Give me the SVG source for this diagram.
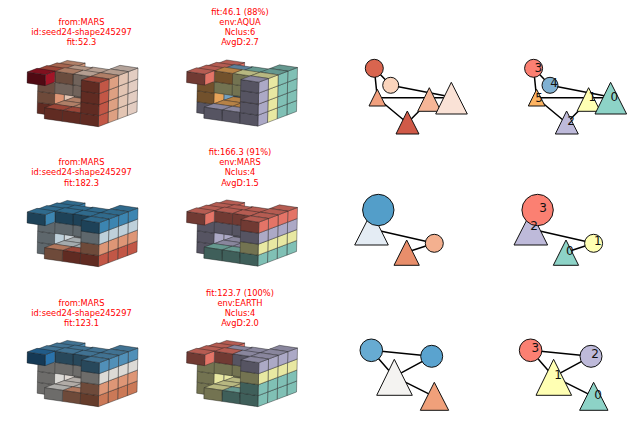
<svg xmlns="http://www.w3.org/2000/svg" width="640" height="424" viewBox="0 0 640 424">
<style>
text{font-family:"DejaVu Sans",sans-serif}
.t{fill:#ff0000;font-size:8.3px;text-anchor:middle}
.d{fill:#111;font-size:12px;text-anchor:middle}
.e{stroke:#000;stroke-width:1.5;fill:none}
.n{stroke:#111;stroke-width:1}
.fb{stroke:#222;stroke-width:.5;stroke-opacity:.85;stroke-linejoin:round}
.sh{stroke:none;fill:#000}
</style>
<defs>
<g id="F"><polygon class="fb" points="0,0 -18,-2.67 -17.75,-13.67 .25,-11"/><polygon class="sh" opacity=".55" points="0,0 -18,-2.67 -17.75,-13.67 .25,-11"/></g>
<g id="R"><polygon class="fb" points="0,0 9.67,-3.67 9.92,-14.67 .25,-11"/><polygon class="sh" opacity=".09" points="0,0 9.67,-3.67 9.92,-14.67 .25,-11"/></g>
<g id="T"><polygon class="fb" points="0,0 -18,-2.67 -8.33,-6.34 9.67,-3.67"/><polygon class="sh" opacity=".28" points="0,0 -18,-2.67 -8.33,-6.34 9.67,-3.67"/></g>
<g id="cube">
<use href="#R" transform="translate(75.2,77.6)" style="fill:var(--a3)"/>
<use href="#T" transform="translate(75.5,66.8)" style="fill:var(--a3)"/>
<use href="#F" transform="translate(55.2,115.9)" style="fill:var(--l)"/>
<use href="#F" transform="translate(55.4,104.9)" style="fill:var(--j)"/>
<use href="#F" transform="translate(55.7,93.9)" style="fill:var(--i)"/>
<use href="#F" transform="translate(92.01,100.1)" style="fill:var(--o)"/>
<use href="#R" transform="translate(64.34,101.1)" style="fill:var(--o)"/>
<use href="#R" transform="translate(54.46,104.38)" style="fill:var(--j)"/>
<use href="#T" transform="translate(100.06,105.92)" style="fill:var(--r)"/>
<use href="#T" transform="translate(82.2,103.51)" style="fill:var(--r)"/>
<use href="#T" transform="translate(90.32,109.46)" style="fill:var(--r)"/>
<use href="#T" transform="translate(72.39,106.92)" style="fill:var(--r)"/>
<use href="#F" transform="translate(90.57,98.46)" style="fill:var(--n)"/>
<use href="#F" transform="translate(72.64,95.92)" style="fill:var(--m)"/>
<use href="#F" transform="translate(90.82,87.46)" style="fill:var(--g)"/>
<use href="#F" transform="translate(72.89,84.92)" style="fill:var(--e)"/>
<use href="#T" transform="translate(65.3,69.2)" style="fill:var(--a2)"/>
<use href="#T" transform="translate(100.81,73.4)" style="fill:var(--h)"/>
<use href="#T" transform="translate(83,71.4)" style="fill:var(--f)"/>
<use href="#T" transform="translate(55.21,71.9)" style="fill:var(--a1)"/>
<use href="#T" transform="translate(91.07,76.46)" style="fill:var(--g)"/>
<use href="#T" transform="translate(73.14,73.92)" style="fill:var(--e)"/>
<use href="#T" transform="translate(80.58,113)" style="fill:var(--q)"/>
<use href="#T" transform="translate(62.58,110.33)" style="fill:var(--p)"/>
<use href="#F" transform="translate(80.33,124)" style="fill:var(--q)"/>
<use href="#F" transform="translate(62.33,121.33)" style="fill:var(--p)"/>
<use href="#R" transform="translate(45.08,85.66)" style="fill:var(--a0)"/>
<use href="#F" transform="translate(45.08,85.66)" style="fill:var(--a0)"/>
<use href="#T" transform="translate(45.33,74.66)" style="fill:var(--a0)"/>
<use href="#R" transform="translate(127.34,115.66)" style="fill:var(--w3,var(--k0))"/>
<use href="#R" transform="translate(127.59,104.66)" style="fill:var(--w3,var(--k1))"/>
<use href="#R" transform="translate(127.84,93.66)" style="fill:var(--w3,var(--k2))"/>
<use href="#R" transform="translate(128.09,82.66)" style="fill:var(--w3,var(--k3))"/>
<use href="#R" transform="translate(117.67,119.33)" style="fill:var(--w2,var(--k0))"/>
<use href="#R" transform="translate(117.92,108.33)" style="fill:var(--w2,var(--k1))"/>
<use href="#R" transform="translate(118.17,97.33)" style="fill:var(--w2,var(--k2))"/>
<use href="#R" transform="translate(118.42,86.33)" style="fill:var(--w2,var(--k3))"/>
<use href="#R" transform="translate(108,123)" style="fill:var(--w1,var(--k0))"/>
<use href="#R" transform="translate(108.25,112)" style="fill:var(--w1,var(--k1))"/>
<use href="#R" transform="translate(108.5,101)" style="fill:var(--w1,var(--k2))"/>
<use href="#R" transform="translate(108.75,90)" style="fill:var(--w1,var(--k3))"/>
<use href="#R" transform="translate(98.33,126.67)" style="fill:var(--w0,var(--k0))"/>
<use href="#R" transform="translate(98.58,115.67)" style="fill:var(--w0,var(--k1))"/>
<use href="#R" transform="translate(98.83,104.67)" style="fill:var(--w0,var(--k2))"/>
<use href="#R" transform="translate(99.08,93.67)" style="fill:var(--w0,var(--k3))"/>
<use href="#F" transform="translate(98.33,126.67)" style="fill:var(--w0,var(--k0))"/>
<use href="#F" transform="translate(98.58,115.67)" style="fill:var(--w0,var(--k1))"/>
<use href="#F" transform="translate(98.83,104.67)" style="fill:var(--w0,var(--k2))"/>
<use href="#F" transform="translate(99.08,93.67)" style="fill:var(--w0,var(--k3))"/>
<use href="#T" transform="translate(128.34,71.66)" style="fill:var(--w3,var(--k3))"/>
<use href="#T" transform="translate(118.67,75.33)" style="fill:var(--w2,var(--k3))"/>
<use href="#T" transform="translate(109,79)" style="fill:var(--w1,var(--k3))"/>
<use href="#T" transform="translate(99.33,82.67)" style="fill:var(--w0,var(--k3))"/>
</g>
</defs>
<rect width="640" height="424" fill="#fff"/>

<g id="shape-row1-left"><use href="#cube" style="--a0:#b2182b;--a1:#d6604d;--a2:#e58b6c;--a3:#f4b08f;--e:#eba98a;--f:#f7cfb8;--g:#fbdcc9;--h:#fbdcc9;--i:#f0ae90;--j:#f4a582;--l:#d6604d;--m:#fbdcc9;--n:#fbdcc9;--o:#fad9c5;--p:#d6604d;--q:#d6604d;--r:#f4b08f;--w0:#d6604d;--w1:#f4b08f;--w2:#fad9c5;--w3:#fae2d6"/></g>
<g id="shape-row1-mid" transform="translate(159.5,-.5)"><use href="#cube" style="--a0:#fb8072;--a1:#fb8072;--a2:#fb8072;--a3:#fb8072;--e:#fdb462;--f:#80b1d3;--g:#ffffb3;--h:#8dd3c7;--i:#fdb462;--j:#fdb462;--l:#bebada;--m:#ffffb3;--n:#ffffb3;--o:#80b1d3;--p:#bebada;--q:#bebada;--r:#fdb462;--w0:#bebada;--w1:#ffffb3;--w2:#8dd3c7;--w3:#8dd3c7"/></g>
<g id="shape-row2-left" transform="translate(0,140)"><use href="#cube" style="--a0:#4393c3;--a1:#4393c3;--a2:#4393c3;--a3:#4393c3;--e:#4393c3;--f:#4393c3;--g:#4393c3;--h:#4393c3;--i:#d1e5f0;--j:#d1e5f0;--l:#d1e5f0;--m:#d1e5f0;--n:#d1e5f0;--o:#e4edf2;--p:#f4a582;--q:#d6604d;--r:#e4edf2;--k0:#d6604d;--k1:#f4a582;--k2:#d1e5f0;--k3:#4393c3"/></g>
<g id="shape-row2-mid" transform="translate(159.5,139.5)"><use href="#cube" style="--a0:#fb8072;--a1:#fb8072;--a2:#fb8072;--a3:#fb8072;--e:#fb8072;--f:#fb8072;--g:#fb8072;--h:#fb8072;--i:#bebada;--j:#bebada;--l:#bebada;--m:#bebada;--n:#bebada;--o:#bebada;--p:#8dd3c7;--q:#8dd3c7;--r:#bebada;--k0:#8dd3c7;--k1:#ffffb3;--k2:#bebada;--k3:#fb8072"/></g>
<g id="shape-row3-left" transform="translate(0,280)"><use href="#cube" style="--a0:#2f7fbc;--a1:#5a9fcb;--a2:#5a9fcb;--a3:#5a9fcb;--e:#5a9fcb;--f:#5a9fcb;--g:#5a9fcb;--h:#5a9fcb;--i:#f2f0ec;--j:#f2f0ec;--l:#f2f0ec;--m:#f2f0ec;--n:#f2f0ec;--o:#f7efe8;--p:#f2f0ec;--q:#f4a582;--r:#f7efe8;--k0:#e08560;--k1:#f4a582;--k2:#f2f0ec;--k3:#5a9fcb"/></g>
<g id="shape-row3-mid" transform="translate(159.5,280)"><use href="#cube" style="--a0:#fb8072;--a1:#fb8072;--a2:#fb8072;--a3:#fb8072;--e:#fb8072;--f:#bebada;--g:#bebada;--h:#bebada;--i:#ffffb3;--j:#ffffb3;--l:#ffffb3;--m:#ffffb3;--n:#ffffb3;--o:#ffffb3;--p:#ffffb3;--q:#8dd3c7;--r:#ffffb3;--k0:#8dd3c7;--k1:#8dd3c7;--k2:#ffffb3;--k3:#bebada"/></g>

<g id="titles">
<text class="t" x="81.5" y="24.7">from:MARS</text><text class="t" x="81.5" y="34.7">id:seed24-shape245297</text><text class="t" x="81.5" y="44.7">fit:52.3</text>
<text class="t" x="240" y="14.7">fit:46.1 (88%)</text><text class="t" x="240" y="24.7">env:AQUA</text><text class="t" x="240" y="34.7">Nclus:6</text><text class="t" x="240" y="44.7">AvgD:2.7</text>
<text class="t" x="81.5" y="165">from:MARS</text><text class="t" x="81.5" y="175">id:seed24-shape245297</text><text class="t" x="81.5" y="185.5">fit:182.3</text>
<text class="t" x="240" y="155">fit:166.3 (91%)</text><text class="t" x="240" y="165">env:MARS</text><text class="t" x="240" y="175">Nclus:4</text><text class="t" x="240" y="185.5">AvgD:1.5</text>
<text class="t" x="81.5" y="305.5">from:MARS</text><text class="t" x="81.5" y="315.5">id:seed24-shape245297</text><text class="t" x="81.5" y="326">fit:123.1</text>
<text class="t" x="240" y="295.5">fit:123.7 (100%)</text><text class="t" x="240" y="305.5">env:EARTH</text><text class="t" x="240" y="315.5">Nclus:4</text><text class="t" x="240" y="326">AvgD:2.0</text>
</g>

<g id="connectors">
<path class="e" d="M374.3 68.3L377.3 98M374.3 68.3L390.7 85.3M390.7 85.3L451.3 97M377.3 97.7H451.3M377.3 98L407.3 123M429.3 100.7L407.3 123"/>
<path class="e" d="M533.6 68.3L536.6 98M533.6 68.3L550 85.3M550 85.3L610.6 97M536.6 97.7H610.6M536.6 98L566.6 123M588.6 100.7L566.6 123"/>
<path class="e" d="M378.3 210L371.7 230M371.7 229L434.3 243.3M406.7 252.3L434.3 243.3"/>
<path class="e" d="M537.6 210L531 230M531 229L593.6 243.3M566 252.3L593.6 243.3"/>
<path class="e" d="M371.3 350.3L431.7 356.3M371.3 350.3L394.3 376.7M394.3 376.7L431.7 356.3M394.3 376.7L434.3 396.7"/>
<path class="e" d="M530.6 350.3L591 356.3M530.6 350.3L553.6 376.7M553.6 376.7L591 356.3M553.6 376.7L593.6 396.7"/>
</g>

<g id="nodes-row1-left">
<g id="a3"><circle class="n" cx="374.3" cy="68.3" r="9" fill="#d9654f"/></g>
<g id="a4"><circle class="n" cx="390.7" cy="85.3" r="8" fill="#fad4bc"/></g>
<g id="a5"><polygon class="n" points="377.3,89.3 369,106 385.7,106" fill="#f1a07e"/></g>
<g id="a2"><polygon class="n" points="407.3,111 396,134 419,134" fill="#d05a48"/></g>
<g id="a1"><polygon class="n" points="429.3,87.7 417.7,111.3 441,111.3" fill="#f6b697"/></g>
<g id="a0"><polygon class="n" points="451.3,82.3 435.7,114 467.3,114" fill="#fae2d6"/></g>
</g>
<g id="nodes-row1-right">
<g id="b3"><circle class="n" cx="533.6" cy="68.3" r="9" fill="#fb8072"/><text class="d" x="538.3" y="71.7">3</text></g>
<g id="b4"><circle class="n" cx="550" cy="85.3" r="8" fill="#80b1d3"/><text class="d" x="554" y="87.1">4</text></g>
<g id="b5"><polygon class="n" points="536.6,89.3 528.3,106 545,106" fill="#fdb462"/><text class="d" x="539" y="102.1">5</text></g>
<g id="b2"><polygon class="n" points="566.6,111 555.3,134 578.3,134" fill="#bebada"/><text class="d" x="571" y="125.4">2</text></g>
<g id="b1"><polygon class="n" points="588.6,87.7 577,111.3 600.3,111.3" fill="#ffffb3"/><text class="d" x="592.3" y="101.1">1</text></g>
<g id="b0"><polygon class="n" points="610.6,82.3 595,114 626.6,114" fill="#8dd3c7"/><text class="d" x="614.3" y="101.1">0</text></g>
</g>
<g id="nodes-row2-left">
<g id="c2"><polygon class="n" points="371.7,211.7 354.7,245 388.3,245" fill="#e4ecf4"/></g>
<g id="c3"><circle class="n" cx="378.3" cy="210" r="15.7" fill="#539ec9"/></g>
<g id="c1"><circle class="n" cx="434.3" cy="243.3" r="9" fill="#f4b08f"/></g>
<g id="c0"><polygon class="n" points="406.7,240 394,265.3 419.3,265.3" fill="#e88e6b"/></g>
</g>
<g id="nodes-row2-right">
<g id="d2"><polygon class="n" points="531,211.7 514,245 547.6,245" fill="#bebada"/></g>
<g id="d3"><circle class="n" cx="537.6" cy="210" r="15.7" fill="#fb8072"/><text class="d" x="543" y="211.7">3</text></g>
<g id="d1"><circle class="n" cx="593.6" cy="243.3" r="9" fill="#ffffb3"/><text class="d" x="597.7" y="245.1">1</text></g>
<g id="d0"><polygon class="n" points="566,240 553.3,265.3 578.6,265.3" fill="#8dd3c7"/><text class="d" x="569.7" y="255.1">0</text></g>
<text class="d" x="534" y="230.4">2</text>
</g>
<g id="nodes-row3-left">
<g id="e3"><circle class="n" cx="371.3" cy="350.3" r="11.3" fill="#67abd2"/></g>
<g id="e2"><circle class="n" cx="431.7" cy="356.3" r="11" fill="#5aa3cf"/></g>
<g id="e1"><polygon class="n" points="394.3,359.3 376.7,395.3 412.3,395.3" fill="#f4f3f1"/></g>
<g id="e0"><polygon class="n" points="434.3,382.3 420.3,410.3 448.7,410.3" fill="#f0a07a"/></g>
</g>
<g id="nodes-row3-right">
<g id="f3"><circle class="n" cx="530.6" cy="350.3" r="11.3" fill="#fb8072"/><text class="d" x="535.3" y="352.1">3</text></g>
<g id="f2"><circle class="n" cx="591" cy="356.3" r="11" fill="#bebada"/><text class="d" x="595" y="358.1">2</text></g>
<g id="f1"><polygon class="n" points="553.6,359.3 536,395.3 571.6,395.3" fill="#ffffb3"/><text class="d" x="558" y="379.1">1</text></g>
<g id="f0"><polygon class="n" points="593.6,382.3 579.6,410.3 608,410.3" fill="#8dd3c7"/><text class="d" x="598" y="399.4">0</text></g>
</g>
</svg>
